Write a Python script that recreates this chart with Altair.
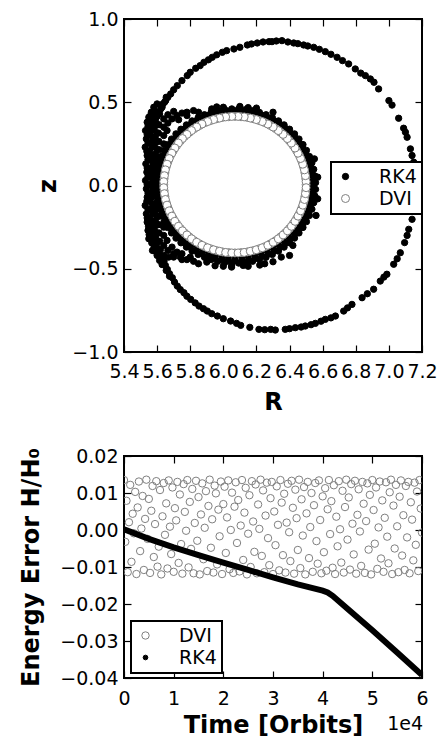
import altair as alt
import pandas as pd

FONT = "DejaVu Sans"

# ---------------- top panel: orbit in the (R, z) plane ----------------
# RK4: outer drifting orbit
outer_R = [5.561,5.575,5.591,5.60,5.622,5.635,5.652,5.665,5.682,5.70,
           5.722,5.75,5.782,5.80,5.833,5.86,5.883,5.91,5.933,5.96,
           5.994,6.02,6.064,6.10,6.145,6.17,6.205,6.24,6.276,6.294,
           6.32,6.354,6.39,6.425,6.45,6.485,6.51,6.546,6.58,6.616,
           6.65,6.687,6.72,6.757,6.797,6.83,6.858,6.888,6.91,6.938,
           7.00,7.019,7.059,7.089,7.10,7.110,7.130,7.14,7.150,7.155,
           7.160,7.165,7.17,7.16,7.15,7.14,7.12,7.11,7.095,7.069,
           7.05,7.029,6.988,6.97,6.948,6.908,6.87,6.838,6.777,6.75,
           6.727,6.677,6.65,6.616,6.59,6.556,6.53,6.495,6.47,6.435,
           6.40,6.374,6.314,6.286,6.25,6.215,6.16,6.105,6.08,6.044,
           6.00,5.964,5.93,5.903,5.88,5.853,5.83,5.803,5.78,5.762,
           5.74,5.722,5.705,5.692,5.675,5.662,5.65,5.642,5.625,5.611,
           5.60,5.591,
           5.55,5.565,5.58,5.60,5.615,5.63,5.645,5.655,
           5.58,5.60,5.615,5.63,5.655,5.675]
outer_z = [0.34,0.37,0.41,0.44,0.46,0.49,0.51,0.53,0.55,0.575,
           0.60,0.63,0.66,0.68,0.704,0.72,0.74,0.755,0.77,0.785,
           0.80,0.81,0.82,0.83,0.844,0.85,0.856,0.862,0.864,0.864,
           0.868,0.87,0.862,0.856,0.852,0.844,0.838,0.83,0.818,0.804,
           0.788,0.77,0.75,0.73,0.70,0.675,0.66,0.64,0.62,0.58,
           0.51,0.483,0.404,0.344,0.32,0.29,0.22,0.18,0.14,0.10,
           0.04,0.0,-0.043,-0.103,-0.15,-0.203,-0.263,-0.30,-0.343,-0.404,
           -0.44,-0.473,-0.533,-0.55,-0.574,-0.623,-0.65,-0.674,-0.714,-0.735,
           -0.754,-0.784,-0.795,-0.804,-0.815,-0.828,-0.836,-0.844,-0.85,-0.854,
           -0.86,-0.864,-0.868,-0.864,-0.866,-0.864,-0.852,-0.84,-0.828,-0.814,
           -0.80,-0.784,-0.77,-0.754,-0.74,-0.724,-0.705,-0.684,-0.665,-0.644,
           -0.625,-0.604,-0.58,-0.554,-0.53,-0.504,-0.48,-0.453,-0.43,-0.404,
           -0.385,-0.363,
           0.41,0.44,0.47,0.49,0.43,0.47,0.50,0.53,
           -0.39,-0.42,-0.45,-0.475,-0.51,-0.545]

# RK4: thick band hugging the DVI orbit (three rows)
bandA_R = [6.525,6.523,6.518,6.510,6.498,6.482,6.464,6.443,6.419,6.392,6.363,6.331,6.298,6.262,6.226,6.188,6.149,6.110,6.070,
           6.030,5.991,5.952,5.914,5.878,5.843,5.809,5.778,5.748,5.722,5.697,5.676,5.658,5.643,5.631,5.622,5.617,5.615,
           5.617,5.622,5.631,5.643,5.658,5.676,5.697,5.722,5.748,5.778,5.809,5.843,5.878,5.914,5.952,5.991,6.030,6.070,
           6.110,6.149,6.188,6.226,6.262,6.298,6.331,6.363,6.392,6.419,6.443,6.464,6.482,6.498,6.510,6.518,6.523]
bandA_z = [0.000,0.038,0.075,0.111,0.147,0.182,0.215,0.247,0.276,0.304,0.329,0.352,0.372,0.390,0.404,0.415,0.424,0.428,0.430,
           0.428,0.424,0.415,0.404,0.390,0.372,0.352,0.329,0.304,0.276,0.247,0.215,0.182,0.147,0.111,0.075,0.038,0.000,
           -0.038,-0.075,-0.111,-0.147,-0.182,-0.215,-0.247,-0.276,-0.304,-0.329,-0.352,-0.372,-0.390,-0.404,-0.415,-0.424,-0.428,-0.430,
           -0.428,-0.424,-0.415,-0.404,-0.390,-0.372,-0.352,-0.329,-0.304,-0.276,-0.247,-0.215,-0.182,-0.147,-0.111,-0.075,-0.038]
bandB_R = [6.557,6.553,6.546,6.535,6.520,6.502,6.481,6.457,6.430,6.400,6.367,6.333,6.296,6.258,6.218,6.177,6.135,6.093,
           6.051,6.009,5.967,5.926,5.886,5.848,5.811,5.777,5.744,5.714,5.687,5.663,5.642,5.624,5.609,5.598,5.591,5.587,
           5.587,5.591,5.598,5.609,5.624,5.642,5.663,5.687,5.714,5.744,5.777,5.811,5.848,5.886,5.926,5.967,6.009,6.051,
           6.093,6.135,6.177,6.218,6.258,6.296,6.333,6.367,6.400,6.430,6.457,6.481,6.502,6.520,6.535,6.546,6.553,6.557]
bandB_z = [0.017,0.057,0.097,0.136,0.174,0.211,0.246,0.279,0.310,0.338,0.364,0.388,0.408,0.425,0.439,0.449,0.456,0.460,
           0.460,0.456,0.449,0.439,0.425,0.408,0.388,0.364,0.338,0.310,0.279,0.246,0.211,0.174,0.136,0.097,0.057,0.017,
           -0.023,-0.063,-0.103,-0.142,-0.180,-0.217,-0.252,-0.285,-0.316,-0.344,-0.370,-0.394,-0.414,-0.431,-0.445,-0.455,-0.462,-0.466,
           -0.466,-0.462,-0.455,-0.445,-0.431,-0.414,-0.394,-0.370,-0.344,-0.316,-0.285,-0.252,-0.217,-0.180,-0.142,-0.103,-0.063,-0.023]
bandC_R = [6.542,6.540,6.535,6.526,6.514,6.498,6.479,6.457,6.432,6.404,6.374,6.342,6.307,6.271,6.233,6.194,6.154,6.113,6.072,
           6.031,5.990,5.950,5.911,5.873,5.837,5.802,5.770,5.740,5.712,5.687,5.665,5.646,5.631,5.618,5.609,5.604,5.602,
           5.604,5.609,5.618,5.631,5.646,5.665,5.687,5.712,5.740,5.770,5.802,5.837,5.873,5.911,5.950,5.990,6.031,6.072,
           6.113,6.154,6.194,6.233,6.271,6.307,6.342,6.374,6.404,6.432,6.457,6.479,6.498,6.514,6.526,6.535,6.540]
bandC_z = [-0.002,0.037,0.076,0.115,0.152,0.188,0.223,0.256,0.287,0.316,0.343,0.367,0.388,0.406,0.421,0.433,0.441,0.446,0.448,
           0.446,0.441,0.433,0.421,0.406,0.388,0.367,0.343,0.316,0.287,0.256,0.223,0.188,0.152,0.115,0.076,0.037,-0.002,
           -0.041,-0.080,-0.119,-0.156,-0.192,-0.227,-0.260,-0.291,-0.320,-0.347,-0.371,-0.392,-0.410,-0.425,-0.437,-0.445,-0.450,-0.452,
           -0.450,-0.445,-0.437,-0.425,-0.410,-0.392,-0.371,-0.347,-0.320,-0.291,-0.260,-0.227,-0.192,-0.156,-0.119,-0.080,-0.041]
bandX_R = [6.00,6.12,6.25,5.90,5.80,6.35,6.00,5.93,6.20,6.30,5.85,5.78,6.57,6.57,6.56,6.55,6.05,6.42,5.96,6.15,
           5.85,5.95,6.05,6.15,6.22,6.30,6.40,5.75,6.10,5.70]
bandX_z = [-0.485,-0.48,-0.47,-0.46,-0.43,-0.43,0.47,0.46,0.465,0.44,0.44,0.42,0.05,-0.08,-0.18,0.16,-0.482,-0.36,0.472,0.468,
           -0.47,-0.482,-0.49,-0.485,-0.478,-0.458,-0.42,-0.445,0.475,-0.43]

# RK4: dense cluster on the inboard (left) side
clus_R = [5.54,5.53,5.535,5.528,5.54,5.532,5.538,5.53,5.535,5.54,5.528,5.535,5.54,5.545,5.55,
          5.56,5.555,5.56,5.565,5.555,5.56,5.565,5.556,5.56,5.565,5.558,5.562,5.556,5.565,5.56,5.568,5.572,
          5.585,5.59,5.582,5.588,5.585,5.59,5.583,5.588,5.585,5.59,5.582,5.588,5.585,5.59,5.583,5.59,5.595,5.60,
          5.61,5.612,5.608,5.61,5.612,5.608,5.61,5.612,5.61,5.608,5.612,5.61,5.612,5.615,5.62,5.625,
          5.64,5.665,5.70,5.64,5.665,5.69,5.72,5.75,5.64,5.66,5.64,5.73,5.78,5.82,
          5.64,5.64,5.66,5.64,5.665,5.69,5.70,5.72,5.74,5.75,5.78,5.82,5.67,5.64,
          5.545,5.54,5.545,5.538,5.545,5.54,5.545,5.54,5.545,5.538,5.545,5.54,5.548,5.552,
          5.572,5.57,5.575,5.57,5.572,5.575,5.57,5.572,5.575,5.57,5.572,5.575,5.57,5.575,5.578,5.582,
          5.60,5.598,5.60,5.598,5.60,5.598,5.60,5.598,5.60,5.598,5.60,5.598,5.60,5.605,5.61]
clus_z = [0.38,0.33,0.28,0.23,0.18,0.13,0.08,0.03,-0.02,-0.07,-0.12,-0.17,-0.22,-0.27,-0.32,
          0.42,0.36,0.305,0.255,0.205,0.155,0.105,0.055,0.005,-0.045,-0.095,-0.145,-0.195,-0.245,-0.295,-0.345,-0.39,
          0.44,0.39,0.34,0.29,0.24,0.19,0.14,0.09,0.04,-0.01,-0.06,-0.11,-0.16,-0.21,-0.26,-0.31,-0.36,-0.41,
          0.43,0.365,0.315,0.265,0.215,0.165,0.115,0.065,-0.085,-0.135,-0.185,-0.235,-0.285,-0.335,-0.385,-0.43,
          0.40,0.425,0.445,0.35,0.375,0.40,0.42,0.435,0.30,0.33,0.25,0.395,0.44,0.45,
          -0.25,-0.30,-0.33,-0.36,-0.39,-0.37,-0.41,-0.40,-0.43,-0.41,-0.445,-0.455,-0.43,-0.42,
          0.355,0.305,0.255,0.205,0.155,0.105,0.055,0.005,-0.045,-0.095,-0.145,-0.195,-0.245,-0.295,
          0.39,0.335,0.28,0.23,0.18,0.13,0.08,0.03,-0.02,-0.07,-0.12,-0.17,-0.22,-0.27,-0.32,-0.37,
          0.415,0.365,0.315,0.265,0.215,0.165,0.115,0.015,-0.035,-0.135,-0.185,-0.235,-0.285,-0.335,-0.385]

# DVI: closed orbit (two interleaved passes)
dvi_R = [6.500,6.498,6.493,6.485,6.474,6.460,6.442,6.422,6.399,6.374,6.346,6.317,6.285,6.252,6.217,6.181,6.145,6.107,6.070,
         6.033,5.995,5.959,5.923,5.888,5.855,5.823,5.794,5.766,5.741,5.718,5.698,5.680,5.666,5.655,5.647,5.642,5.640,
         5.642,5.647,5.655,5.666,5.680,5.698,5.718,5.741,5.766,5.794,5.823,5.855,5.888,5.923,5.959,5.995,6.033,6.070,
         6.107,6.145,6.181,6.217,6.252,6.285,6.317,6.346,6.374,6.399,6.422,6.442,6.460,6.474,6.485,6.493,6.498,
         6.500,6.496,6.490,6.480,6.467,6.451,6.433,6.411,6.387,6.361,6.332,6.301,6.269,6.235,6.199,6.163,6.126,6.089,
         6.051,6.014,5.977,5.941,5.905,5.871,5.839,5.808,5.780,5.753,5.729,5.707,5.689,5.673,5.660,5.650,5.644,5.640,
         5.640,5.644,5.650,5.660,5.673,5.689,5.707,5.729,5.753,5.780,5.808,5.839,5.871,5.905,5.941,5.977,6.014,6.051,
         6.089,6.126,6.163,6.199,6.235,6.269,6.301,6.332,6.361,6.387,6.411,6.433,6.451,6.467,6.480,6.490,6.496,6.500]
dvi_z = [0.005,0.041,0.076,0.111,0.145,0.178,0.210,0.240,0.269,0.295,0.319,0.341,0.360,0.377,0.390,0.401,0.409,0.413,0.415,
         0.413,0.409,0.401,0.390,0.377,0.360,0.341,0.319,0.295,0.269,0.240,0.210,0.178,0.145,0.111,0.076,0.041,0.005,
         -0.031,-0.066,-0.101,-0.135,-0.168,-0.200,-0.230,-0.259,-0.285,-0.309,-0.331,-0.350,-0.367,-0.380,-0.391,-0.399,-0.403,-0.405,
         -0.403,-0.399,-0.391,-0.380,-0.367,-0.350,-0.331,-0.309,-0.285,-0.259,-0.230,-0.200,-0.168,-0.135,-0.101,-0.066,-0.031,
         0.023,0.059,0.094,0.128,0.162,0.194,0.225,0.255,0.282,0.307,0.330,0.351,0.369,0.384,0.396,0.405,0.412,0.415,
         0.415,0.412,0.405,0.396,0.384,0.369,0.351,0.330,0.307,0.282,0.255,0.225,0.194,0.162,0.128,0.094,0.059,0.023,
         -0.013,-0.049,-0.084,-0.118,-0.152,-0.184,-0.215,-0.245,-0.272,-0.297,-0.320,-0.341,-0.359,-0.374,-0.386,-0.395,-0.402,-0.405,
         -0.405,-0.402,-0.395,-0.386,-0.374,-0.359,-0.341,-0.320,-0.297,-0.272,-0.245,-0.215,-0.184,-0.152,-0.118,-0.084,-0.049,-0.013]

r_ticks = [5.4, 5.6, 5.8, 6.0, 6.2, 6.4, 6.6, 6.8, 7.0, 7.2]
z_ticks = [-1.0, -0.5, 0.0, 0.5, 1.0]

# ---------------- bottom panel: energy error vs time ----------------
# time in thousands of orbits
dvi_t = [0,0.25,0.5,0.75,1,1.25,1.5,1.75,2,2.25,2.5,2.75,3,3.25,3.5,3.75,4,4.25,4.5,4.75,
         5,5.25,5.5,5.75,6,6.25,6.5,6.75,7,7.25,7.5,7.75,8,8.25,8.5,8.75,9,9.25,9.5,9.75,
         10,10.25,10.5,10.75,11,11.25,11.5,11.75,12,12.25,12.5,12.75,13,13.25,13.5,13.75,14,14.25,14.5,14.75,
         15,15.25,15.5,15.75,16,16.25,16.5,16.75,17,17.25,17.5,17.75,18,18.25,18.5,18.75,19,19.25,19.5,19.75,
         20,20.25,20.5,20.75,21,21.25,21.5,21.75,22,22.25,22.5,22.75,23,23.25,23.5,23.75,24,24.25,24.5,24.75,
         25,25.25,25.5,25.75,26,26.25,26.5,26.75,27,27.25,27.5,27.75,28,28.25,28.5,28.75,29,29.25,29.5,29.75,
         30,30.25,30.5,30.75,31,31.25,31.5,31.75,32,32.25,32.5,32.75,33,33.25,33.5,33.75,34,34.25,34.5,34.75,
         35,35.25,35.5,35.75,36,36.25,36.5,36.75,37,37.25,37.5,37.75,38,38.25,38.5,38.75,39,39.25,39.5,39.75,
         40,40.25,40.5,40.75,41,41.25,41.5,41.75,42,42.25,42.5,42.75,43,43.25,43.5,43.75,44,44.25,44.5,44.75,
         45,45.25,45.5,45.75,46,46.25,46.5,46.75,47,47.25,47.5,47.75,48,48.25,48.5,48.75,49,49.25,49.5,49.75,
         50,50.25,50.5,50.75,51,51.25,51.5,51.75,52,52.25,52.5,52.75,53,53.25,53.5,53.75,54,54.25,54.5,54.75,
         55,55.25,55.5,55.75,56,56.25,56.5,56.75,57,57.25,57.5,57.75,58,58.25,58.5,58.75,59,59.25,59.5,59.75,
         60]
# energy error in units of 1e-3
dvi_E_milli = [13.5,-3.2,7.9,-11.4,2.1,12.2,-8.6,4.4,-0.9,10.3,
               -11.9,6.1,13.1,-5.7,0.4,9.2,-10.8,3.0,13.6,-2.4,
               8.4,-11.6,5.2,11.9,-7.3,1.6,13.2,-9.9,-4.5,10.8,
               -12.0,3.7,12.7,-1.3,7.2,-10.4,13.4,0.9,-6.5,11.5,
               -11.3,5.9,2.6,13.0,-8.9,9.6,-3.8,-11.8,12.4,4.9,
               -0.2,13.5,-10.1,7.6,-5.1,11.1,-11.7,1.9,13.3,-2.9,
               8.9,-12.0,4.2,12.6,-7.9,0.6,10.5,-11.1,6.5,13.6,
               -4.8,2.9,-11.5,12.0,9.9,-9.3,5.5,-1.7,13.1,-11.9,
               7.0,11.7,-6.2,3.4,13.4,-10.6,0.0,10.1,-11.6,6.3,
               12.9,-3.5,8.1,-11.2,1.2,13.5,-8.1,4.7,11.4,-12.0,
               -1.0,9.4,-10.0,13.2,2.3,-5.9,12.3,-11.7,6.9,0.3,
               13.6,-7.0,10.7,-11.4,3.9,12.8,-2.2,-9.5,8.6,13.0,
               -11.9,5.0,-4.1,11.8,1.4,-10.9,13.5,7.4,-6.8,9.8,
               -11.5,2.0,12.5,-0.6,-8.4,13.3,6.0,-11.8,10.9,3.2,
               -5.4,13.6,-10.3,8.3,-1.5,11.6,-12.0,4.5,13.0,-7.6,
               0.8,10.0,-11.3,6.7,12.7,-3.0,-9.1,13.4,2.7,-11.7,
               9.1,-6.0,11.3,-11.0,5.6,13.5,-1.1,7.8,-10.2,12.1,
               -11.9,3.6,-4.4,13.2,0.2,-8.8,10.6,-11.5,6.2,13.6,
               -2.6,8.8,-10.7,12.4,1.7,-6.6,13.3,-11.8,4.1,11.0,
               -0.4,-9.7,13.0,7.1,-11.6,2.4,12.6,-5.3,9.5,-12.0,
               13.5,5.4,-3.7,11.5,-10.5,0.7,13.1,-7.7,8.0,-11.3,
               3.3,12.9,-1.8,-9.0,10.2,13.6,-11.9,6.6,-5.0,12.2,
               1.0,-11.4,9.0,13.4,-6.9,4.0,-10.8,11.9,-2.0,13.0,
               -11.7,7.5,2.8,-8.2,12.8,-4.0,10.4,-11.1,13.5,5.8,
               -0.7]
rk4_t = [0, 5, 10, 15, 20, 25, 30, 35, 40, 41, 42, 45, 50, 55, 60]
rk4_E = [0.0002, -0.0024, -0.0047, -0.0068, -0.0088, -0.0108, -0.0128, -0.0147,
         -0.0164, -0.0169, -0.0178, -0.0213, -0.0271, -0.0331, -0.0392]
t_ticks = [0, 10, 20, 30, 40, 50, 60]
e_ticks = [-0.04, -0.03, -0.02, -0.01, 0.0, 0.01, 0.02]

# ---------------- tables ----------------
rk4_R = outer_R + bandA_R + bandC_R + bandB_R + bandX_R + clus_R
rk4_z = outer_z + bandA_z + bandC_z + bandB_z + bandX_z + clus_z
top_df = pd.DataFrame({
    "R": rk4_R + dvi_R,
    "z": rk4_z + dvi_z,
    "series": ["RK4"] * len(rk4_R) + ["DVI"] * len(dvi_R),
})
dvi_df = pd.DataFrame({"t": dvi_t, "E": [v / 1000 for v in dvi_E_milli], "series": ["DVI"] * len(dvi_t)})
rk4_df = pd.DataFrame({"t": rk4_t, "E": rk4_E})
note_df = pd.DataFrame({"txt": ["1e4"]})


def tick_axis(orient, values):
    return alt.Axis(orient=orient, values=values, offset=-7, tickSize=7, domain=False,
                    labels=False, title=None, grid=False)


# ---------------- top chart ----------------
top_leg = alt.Legend(title=None, orient="none", legendX=207, legendY=143)
top_x = alt.X("R:Q", scale=alt.Scale(domain=[5.4, 7.2], nice=False, zero=False),
              axis=alt.Axis(orient="bottom", values=r_ticks, format=".1f", offset=-7, tickSize=7,
                            domain=False, grid=False, labelPadding=10, title="R",
                            titleY=64, titleBaseline="alphabetic"))
top_y = alt.Y("z:Q", scale=alt.Scale(domain=[-1, 1], nice=False, zero=False),
              axis=alt.Axis(orient="left", values=z_ticks, format=".1f", offset=-7, tickSize=7,
                            domain=False, grid=False, labelPadding=6, title="z",
                            titleX=-76, titleY=166.5, titleBaseline="alphabetic"))
top_points = alt.Chart(top_df).mark_point(shape="circle", opacity=1, strokeWidth=1, clip=True).encode(
    x=top_x, y=top_y,
    fill=alt.Fill("series:N", scale=alt.Scale(type="ordinal", domain=["RK4", "DVI"], range=["black", "white"]), legend=top_leg),
    stroke=alt.Stroke("series:N", scale=alt.Scale(type="ordinal", domain=["RK4", "DVI"], range=["black", "#808080"]), legend=top_leg),
    size=alt.Size("series:N", scale=alt.Scale(type="ordinal", domain=["RK4", "DVI"], range=[40, 64]), legend=top_leg),
)
top_mirror = alt.Chart(top_df).mark_point(opacity=0).encode(
    x=alt.X("R:Q", axis=tick_axis("top", r_ticks)),
    y=alt.Y("z:Q", axis=tick_axis("right", z_ticks)),
)
top = alt.layer(top_points, top_mirror).properties(width=298, height=333)

# ---------------- bottom chart ----------------
bot_leg = alt.Legend(title=None, orient="none", legendX=7, legendY=165)
bot_x = alt.X("t:Q", scale=alt.Scale(domain=[0, 60], nice=False, zero=False),
              axis=alt.Axis(orient="bottom", values=t_ticks, labelExpr="format(datum.value / 10, 'd')",
                            offset=-7, tickSize=7, domain=False, grid=False, labelPadding=11,
                            title="Time [Orbits]", titleY=61, titleBaseline="alphabetic"))
bot_y = alt.Y("E:Q", scale=alt.Scale(domain=[-0.04, 0.02], nice=False, zero=False),
              axis=alt.Axis(orient="left", values=e_ticks, format=".2f", offset=-7, tickSize=7,
                            domain=False, grid=False, labelPadding=6, title="Energy Error H/H₀",
                            titleX=-93, titleY=111, titleBaseline="alphabetic"))
bot_points = alt.Chart(dvi_df).mark_point(shape="circle", opacity=1, strokeWidth=1, clip=True).encode(
    x=bot_x, y=bot_y,
    fill=alt.Fill("series:N", scale=alt.Scale(type="ordinal", domain=["DVI", "RK4"], range=["transparent", "black"]), legend=bot_leg),
    stroke=alt.Stroke("series:N", scale=alt.Scale(type="ordinal", domain=["DVI", "RK4"], range=["#808080", "black"]), legend=bot_leg),
    size=alt.Size("series:N", scale=alt.Scale(type="ordinal", domain=["DVI", "RK4"], range=[55, 22]), legend=bot_leg),
)
bot_line = alt.Chart(rk4_df).mark_line(color="black", strokeWidth=6, clip=True).encode(
    x=alt.X("t:Q", axis=None), y=alt.Y("E:Q", axis=None))
bot_mirror = alt.Chart(dvi_df).mark_point(opacity=0).encode(
    x=alt.X("t:Q", axis=tick_axis("top", t_ticks)),
    y=alt.Y("E:Q", axis=tick_axis("right", e_ticks)),
)
bot_note = alt.Chart(note_df).mark_text(align="right", baseline="alphabetic", fontSize=19,
                                        font=FONT, color="black").encode(
    x=alt.value(299), y=alt.value(274), text="txt:N")
bottom = alt.layer(bot_points, bot_line, bot_mirror, bot_note).properties(width=298, height=222)

chart = alt.vconcat(top, bottom, spacing=104, bounds="flush").resolve_scale(
    fill="independent", stroke="independent", size="independent"
).resolve_legend(
    fill="independent", stroke="independent", size="independent"
).properties(
    padding={"left": 17, "top": 9, "right": 0, "bottom": 0},
).configure_view(
    stroke="black", strokeWidth=2
).configure_axis(
    tickColor="black", tickWidth=1.2, labelColor="black", titleColor="black",
    labelFont=FONT, titleFont=FONT, labelFontSize=19, titleFontSize=24, titleFontWeight="bold",
    labelFlush=False, labelOverlap=False, grid=False
).configure_legend(
    strokeColor="black", strokeWidth=2, fillColor="white", padding=5, cornerRadius=0,
    labelFont=FONT, labelFontSize=19, labelColor="black", labelOffset=24, rowPadding=2,
    symbolStrokeWidth=1
)

chart.save("out.html", embed_options={"renderer": "svg", "actions": False})
